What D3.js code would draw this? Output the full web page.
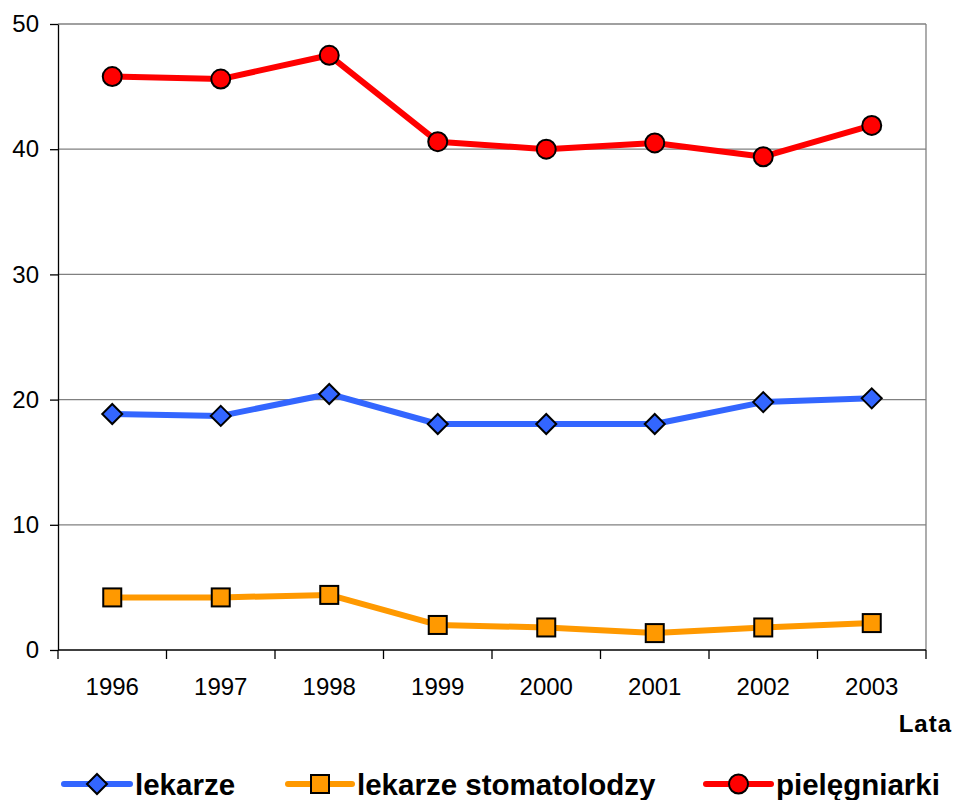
<!DOCTYPE html>
<html>
<head>
<meta charset="utf-8">
<script src="https://cdn.jsdelivr.net/npm/d3@7"></script>
<style>
  html, body { margin: 0; padding: 0; background: #fff; }
  svg { display: block; font-family: "Liberation Sans", Arial, sans-serif; }
</style>
</head>
<body>
<svg id="chart" width="957" height="800"></svg>
<script>
// Kategorie (lata) i serie danych
const years = ["1996", "1997", "1998", "1999", "2000", "2001", "2002", "2003"];
const lekarze = [18.85, 18.7, 20.45, 18.05, 18.05, 18.05, 19.8, 20.1];
const stomatolodzy = [4.2, 4.2, 4.4, 2.0, 1.8, 1.35, 1.8, 2.15];
const pielegniarki = [45.8, 45.6, 47.5, 40.6, 40.0, 40.5, 39.4, 41.9];
const yTicks = [0, 10, 20, 30, 40, 50];

const series = [
  { name: "lekarze", values: lekarze, color: "#3366FF", marker: "diamond" },
  { name: "lekarze stomatolodzy", values: stomatolodzy, color: "#FF9900", marker: "square" },
  { name: "pielęgniarki", values: pielegniarki, color: "#FF0000", marker: "circle" }
];

const svg = d3.select("#chart");
const plot = { left: 58, right: 926, top: 24, bottom: 650 };

const x = d3.scaleBand().domain(years).range([plot.left, plot.right]);
const y = d3.scaleLinear().domain([0, 50]).range([plot.bottom, plot.top]);

// Linie siatki
svg.append("g")
  .selectAll("line")
  .data(yTicks.filter(d => d > 0))
  .join("line")
  .attr("x1", plot.left).attr("x2", plot.right)
  .attr("y1", d => y(d)).attr("y2", d => y(d))
  .attr("stroke", "#808080").attr("stroke-width", 1.3);

// Prawa krawędź obszaru wykresu
svg.append("line")
  .attr("x1", plot.right).attr("x2", plot.right)
  .attr("y1", plot.top).attr("y2", plot.bottom)
  .attr("stroke", "#808080").attr("stroke-width", 1.3);

// Oś Y
const yAxis = svg.append("g")
  .attr("transform", `translate(${plot.left},0)`)
  .call(d3.axisLeft(y).tickValues(yTicks).tickSize(8).tickPadding(11).tickSizeOuter(0));
yAxis.select(".domain").attr("stroke", "#000").attr("stroke-width", 1.3);
yAxis.selectAll(".tick line").attr("stroke", "#000").attr("stroke-width", 1.3);
yAxis.selectAll("text").attr("font-size", 24).attr("fill", "#000")
  .attr("font-family", "'Liberation Sans', Arial, sans-serif");

// Oś X (znaczniki na granicach kategorii)
const xAxisG = svg.append("g").attr("transform", `translate(0,${plot.bottom})`);
xAxisG.append("line")
  .attr("x1", plot.left).attr("x2", plot.right)
  .attr("y1", 0).attr("y2", 0)
  .attr("stroke", "#000").attr("stroke-width", 1.3);
const bounds = years.map(d => x(d)).concat([plot.right]);
xAxisG.selectAll("line.tick")
  .data(bounds)
  .join("line")
  .attr("class", "tick")
  .attr("x1", d => d).attr("x2", d => d)
  .attr("y1", 0).attr("y2", 9)
  .attr("stroke", "#000").attr("stroke-width", 1.3);
xAxisG.selectAll("text")
  .data(years)
  .join("text")
  .attr("x", d => x(d) + x.bandwidth() / 2)
  .attr("y", 45)
  .attr("text-anchor", "middle")
  .attr("font-size", 24)
  .attr("fill", "#000")
  .text(d => d);

// Tytuł osi X
svg.append("text")
  .attr("x", 952).attr("y", 732)
  .attr("text-anchor", "end")
  .attr("font-size", 24).attr("font-weight", "bold")
  .attr("letter-spacing", 1)
  .text("Lata");

const cx = d => x(d) + x.bandwidth() / 2;

function drawMarker(g, type, px, py, color) {
  if (type === "circle") {
    g.append("circle").attr("cx", px).attr("cy", py).attr("r", 9.5)
      .attr("fill", color).attr("stroke", "#000").attr("stroke-width", 2);
  } else if (type === "square") {
    g.append("rect").attr("x", px - 9).attr("y", py - 9).attr("width", 18).attr("height", 18)
      .attr("fill", color).attr("stroke", "#000").attr("stroke-width", 2);
  } else {
    const s = 10;
    g.append("path")
      .attr("d", `M${px},${py - s}L${px + s},${py}L${px},${py + s}L${px - s},${py}Z`)
      .attr("fill", color).attr("stroke", "#000").attr("stroke-width", 2);
  }
}

const line = d3.line().x((d, i) => cx(years[i])).y(d => y(d));

series.forEach(s => {
  const g = svg.append("g");
  g.append("path")
    .attr("d", line(s.values))
    .attr("fill", "none")
    .attr("stroke", s.color)
    .attr("stroke-width", 6)
    .attr("stroke-linejoin", "round");
  s.values.forEach((v, i) => drawMarker(g, s.marker, cx(years[i]), y(v), s.color));
});

// Legenda
const legendY = 784;
const legendItems = [
  { x0: 64, x1: 130, tx: 135 },
  { x0: 288, x1: 352, tx: 357 },
  { x0: 706, x1: 771, tx: 776 }
];
series.forEach((s, i) => {
  const L = legendItems[i];
  const g = svg.append("g");
  g.append("line")
    .attr("x1", L.x0).attr("x2", L.x1)
    .attr("y1", legendY).attr("y2", legendY)
    .attr("stroke", s.color).attr("stroke-width", 6)
    .attr("stroke-linecap", "round");
  drawMarker(g, s.marker, (L.x0 + L.x1) / 2, legendY, s.color);
  g.append("text")
    .attr("x", L.tx).attr("y", legendY + 11)
    .attr("font-size", 29.5).attr("font-weight", "bold")
    .text(s.name);
});
</script>
</body>
</html>
